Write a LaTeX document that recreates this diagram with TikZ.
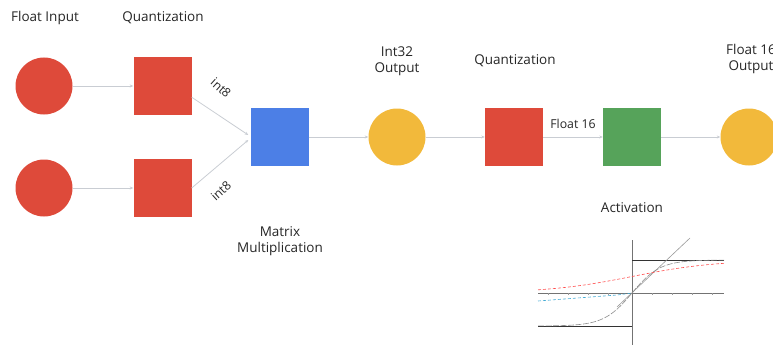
\documentclass[tikz,border=0pt]{standalone}
\usepackage{fontspec}
\setmainfont{Open Sans}
\usetikzlibrary{arrows.meta,calc}
\definecolor{gred}{HTML}{DE4A3A}
\definecolor{gblue}{HTML}{4C7FE6}
\definecolor{gyellow}{HTML}{F2B93B}
\definecolor{ggreen}{HTML}{56A35A}
\definecolor{conn}{HTML}{C9CDD3}
\tikzset{
  x=1pt,y=-1pt,
  dot/.style={circle,minimum size=57pt,inner sep=0pt},
  box/.style={rectangle,minimum size=58pt,inner sep=0pt},
  lbl/.style={font=\fontsize{13.5}{16.5}\selectfont,text=black!85,align=center,inner sep=0pt},
  small/.style={font=\fontsize{12.3}{14}\selectfont,text=black!85,inner sep=0pt},
  link/.style={draw=conn,line width=0.8pt,-{Stealth[length=3.5pt,width=3pt]}},
  axisln/.style={draw=black!55,line width=0.5pt},
}
\begin{document}
\begin{tikzpicture}
\useasboundingbox (0,0) rectangle (773,345);
% nodes
\node[dot,fill=gred] (in1) at (44,86) {};
\node[dot,fill=gred] (in2) at (44,188) {};
\node[box,fill=gred] (q1) at (162.5,86) {};
\node[box,fill=gred] (q2) at (162.5,188) {};
\node[box,fill=gblue] (mm) at (279.5,137) {};
\node[dot,fill=gyellow] (o32) at (397,137) {};
\node[box,fill=gred] (q3) at (514,137) {};
\node[box,fill=ggreen] (act) at (632,137) {};
\node[dot,fill=gyellow] (o16) at (749,137) {};
% connectors
\draw[link] (in1) -- (q1);
\draw[link] (in2) -- (q2);
\draw[link] (q1.-21) -- ($(mm.west)+(-2,-2)$);
\draw[link] (q2.east) -- ($(mm.west)+(-2,3)$);
\draw[link] (mm) -- (o32);
\draw[link] (o32) -- (q3);
\draw[link] (q3) -- (act);
\draw[link] (act) -- (o16);
% labels
\node[lbl] (t1) at (45,18) {Float Input};
\node[lbl] (t2) at (163,18) {Quantization};
\node[small,rotate=-42] (t3) at (221,88) {int8};
\node[small,rotate=42] (t4) at (221,191) {int8};
\node[lbl] (t5) at (397,61) {Int32\\Output};
\node[lbl] (t6) at (515,61) {Quantization};
\node[small] (t7) at (573,124) {Float 16};
\node[lbl] (t8) at (751,59) {Float 16\\Output};
\node[lbl] (t9) at (632,208) {Activation};
\node[lbl] (t10) at (280,241) {Matrix\\Multiplication};
% activation plot
\draw[axisln] (632,240) -- (632,345);
\draw[axisln] (538,293) -- (724,293);
\foreach \xx in {548,568,588,608,652,672,692,712}
  \draw[black!40,line width=0.3pt] (\xx,293) -- (\xx,295);
\draw[black!80,line width=0.8pt] (632,260) -- (724,260);
\draw[black!80,line width=0.8pt] (538,326) -- (632,326);
\draw[black!40,line width=0.6pt] (617,307) -- (690,238);
\draw[black!45,line width=0.6pt,dash pattern=on 6pt off 1.5pt,domain=-94:92,samples=60,smooth]
  plot (632+\x,{293-33*tanh(\x/28)});
\draw[red!70,line width=0.6pt,densely dashed,domain=-94:92,samples=50,smooth]
  plot (632+\x,{293-33/(1+exp(-\x/42))});
\draw[cyan!70!gray,line width=0.6pt,densely dashed] (538,301) -- (617,295) -- (632,293);
\end{tikzpicture}
\end{document}
